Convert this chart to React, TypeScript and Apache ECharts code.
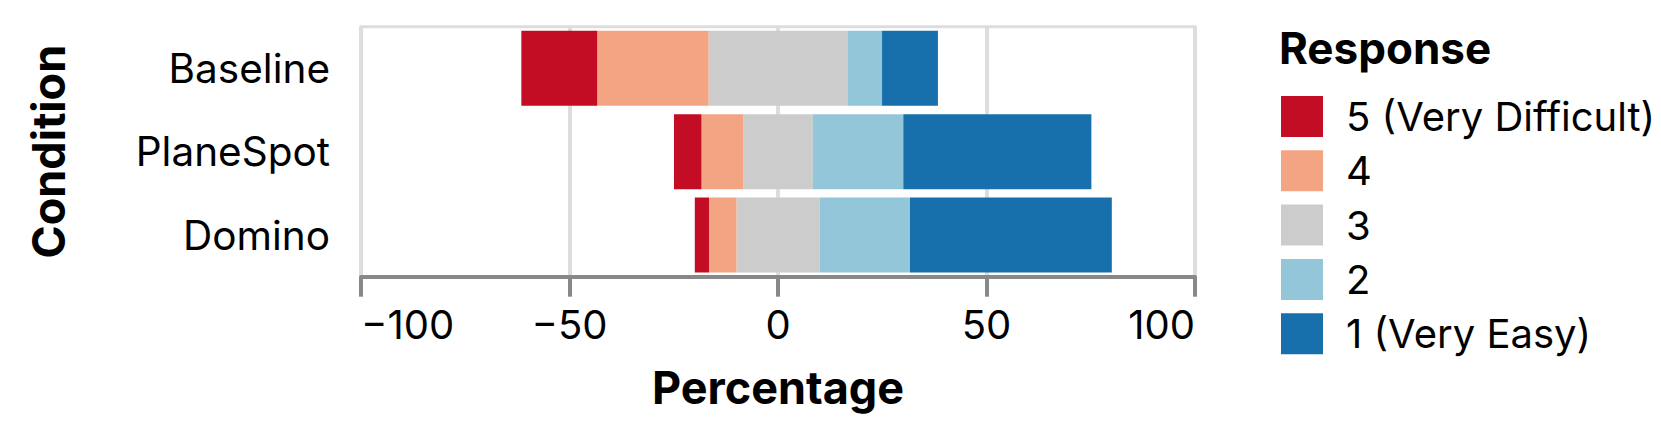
import React, { useEffect, useRef } from "react";
import * as echarts from "echarts";

const categories = ["Baseline", "PlaneSpot", "Domino"];
const responseNames = ["5 (Very Difficult)", "4", "3", "2", "1 (Very Easy)"];
const responseColors = ["#c30d24", "#f3a583", "#cccccc", "#94c6da", "#1770ab"];
// percentages per condition
const veryDifficult = [18.2, 6.6, 3.4];
const difficult = [26.7, 10.0, 6.6];
const neutral = [33.3, 16.7, 19.9];
const easy = [8.3, 21.7, 21.7];
const veryEasy = [13.4, 45.1, 48.4];
const xTicks = { min: -100, max: 100, interval: 50 };

const FONT = "Inter, 'Noto Sans', sans-serif";

export default function App() {
  const ref = useRef<HTMLDivElement>(null);
  useEffect(() => {
    if (!ref.current) return;
    const chart = echarts.init(ref.current, undefined, { renderer: "svg" });
    const bar = (name: string, data: number[], color: string) => ({
      name,
      type: "bar",
      stack: "total",
      data,
      barCategoryGap: "10%",
      itemStyle: { color },
      emphasis: { disabled: true },
    });
    chart.setOption({
      animation: false,
      textStyle: { fontFamily: FONT },
      title: {
        text: "Response",
        left: 1279,
        top: 26,
        padding: 0,
        textStyle: { fontSize: 44, fontWeight: "bold", color: "#000", fontFamily: FONT },
      },
      legend: {
        orient: "vertical",
        left: 1281,
        top: 96,
        padding: 0,
        itemWidth: 42,
        itemHeight: 41,
        itemGap: 13.3,
        icon: "rect",
        selectedMode: false,
        data: responseNames,
        textStyle: { fontSize: 40, color: "#000", fontFamily: FONT, padding: [0, 0, 0, 18] },
      },
      grid: {
        left: 361,
        right: 466,
        top: 26.7,
        bottom: 157.3,
        show: true,
        borderColor: "#dddddd",
        borderWidth: 3,
        backgroundColor: "transparent",
      },
      xAxis: {
        type: "value",
        min: xTicks.min,
        max: xTicks.max,
        interval: xTicks.interval,
        name: "Percentage",
        nameLocation: "middle",
        nameGap: 88,
        nameTextStyle: { fontSize: 45, fontWeight: "bold", color: "#000", fontFamily: FONT },
        axisLine: { show: true, lineStyle: { color: "#888888", width: 4 } },
        axisTick: { show: true, length: 20, lineStyle: { color: "#888888", width: 4 } },
        axisLabel: {
          fontSize: 40,
          color: "#000",
          margin: 28,
          fontFamily: FONT,
          alignMinLabel: "left",
          alignMaxLabel: "right",
          formatter: (v: number) => (v < 0 ? "\u2212" + Math.abs(v) : String(v)),
        },
        splitLine: { show: true, lineStyle: { color: "#dddddd", width: 4 } },
      },
      yAxis: {
        type: "category",
        inverse: true,
        data: categories,
        name: "Condition",
        nameLocation: "middle",
        nameRotate: 90,
        nameGap: 290,
        nameTextStyle: { fontSize: 45, fontWeight: "bold", color: "#000", fontFamily: FONT },
        axisLine: { show: false },
        axisTick: { show: false },
        axisLabel: { fontSize: 40.5, color: "#000", margin: 31, fontFamily: FONT },
        splitLine: { show: false },
      },
      series: [
        bar(responseNames[2], neutral.map((v) => -v / 2), responseColors[2]),
        bar(responseNames[1], difficult.map((v) => -v), responseColors[1]),
        bar(responseNames[0], veryDifficult.map((v) => -v), responseColors[0]),
        bar(responseNames[2], neutral.map((v) => v / 2), responseColors[2]),
        bar(responseNames[3], easy, responseColors[3]),
        bar(responseNames[4], veryEasy, responseColors[4]),
      ],
    });
    return () => chart.dispose();
  }, []);
  return (
    <div
      ref={ref}
      style={{ position: "absolute", left: 0, top: 0, width: 1661, height: 434, background: "#fff" }}
    />
  );
}
